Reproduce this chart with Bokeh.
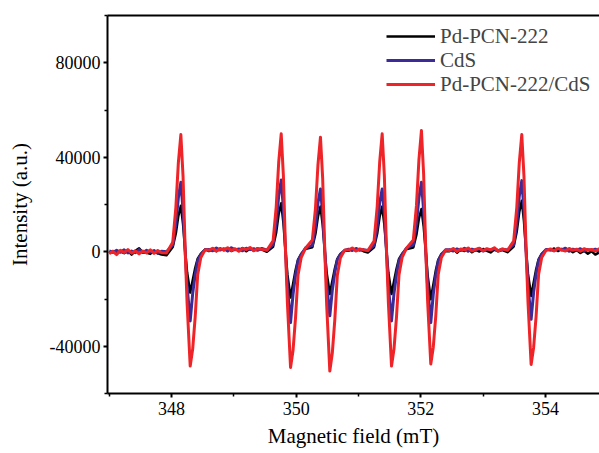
from bokeh.plotting import figure
from bokeh.models import (ColumnDataSource, LinearAxis, FixedTicker, Legend, LegendItem,
                          Range1d, BasicTickFormatter)
from bokeh.embed import file_html
from bokeh.resources import INLINE

# Magnetic field (mT), shared sampling of the three spectra
field = [
    347.00, 347.06, 347.12, 347.18, 347.24, 347.30, 347.36, 347.42, 347.48, 347.54, 347.60, 347.66, 347.72, 347.78, 347.84,
    347.92, 348.02, 348.07, 348.11, 348.15, 348.185, 348.22, 348.25, 348.30, 348.34, 348.38, 348.42, 348.47, 348.54,
    348.60, 348.66, 348.72, 348.78, 348.84, 348.90, 348.96, 349.02, 349.08, 349.14, 349.20, 349.26, 349.32, 349.38, 349.45,
    349.53, 349.63, 349.68, 349.72, 349.76, 349.795, 349.83, 349.86, 349.91, 349.95, 349.99, 350.03, 350.08, 350.15,
    350.16, 350.26, 350.31, 350.35, 350.39, 350.425, 350.46, 350.49, 350.54, 350.58, 350.62, 350.66, 350.71, 350.78,
    350.84, 350.90, 350.96, 351.02, 351.08,
    351.15, 351.25, 351.30, 351.34, 351.38, 351.415, 351.45, 351.48, 351.53, 351.57, 351.61, 351.65, 351.70, 351.77,
    351.78, 351.88, 351.93, 351.97, 352.01, 352.045, 352.08, 352.11, 352.16, 352.20, 352.24, 352.28, 352.33, 352.40,
    352.46, 352.52, 352.58, 352.64, 352.70, 352.76, 352.82, 352.88, 352.94, 353.00, 353.06, 353.12, 353.18, 353.24, 353.31,
    353.39, 353.49, 353.54, 353.58, 353.62, 353.655, 353.69, 353.72, 353.77, 353.81, 353.85, 353.89, 353.94, 354.01,
    354.08, 354.14, 354.20, 354.26, 354.32, 354.38, 354.44, 354.50, 354.56, 354.62, 354.68, 354.74, 354.80, 354.86, 354.92, 355.00,
]

pd_pcn_222 = [
    -500, 300, -800, 200, -600, 500, -1200, 400, 1500, -300, -400, -900, 300, -700, -1200,
    -1500, 2000, 7800, 15200, 19500, 11700, 0, -8700, -17300, -12100, -6900, -2900, -900, 1000,
    300, 1200, 200, 1400, 600, 1500, 300, 1100, 700, 1600, 200, 1300, 500, 1400, 900,
    0, 2100, 8200, 16000, 20500, 12300, 0, -9700, -19400, -13600, -7800, -3300, -1000, 1200,
    1200, 1900, 7600, 14900, 19100, 11500, 0, -9000, -17900, -12500, -7200, -3000, -900, 500,
    400, 1300, 500, 1100, 200,
    -300, 1900, 7600, 14900, 19100, 11500, 0, -9000, -17900, -12500, -7200, -3000, -900, 1200,
    1200, 1800, 7200, 14100, 18100, 10900, 0, -10100, -20100, -14100, -8000, -3400, -1000, 300,
    200, 1100, -400, 900, 300, 1300, -200, 800, 100, 1200, 400, -300, 900, 200, 700,
    -200, 2200, 8600, 16800, 21600, 13000, 0, -9400, -18700, -13100, -7500, -3200, -900, 800,
    600, 1400, 300, 1200, 500, 900, -200, 700, -500, 400, -800, 200, -1200, -300, -1400, -600,
]

cds = [
    400, -300, 600, -200, 800, -500, 300, -400, 900, -300, 600, -200, 500, -600, 200,
    0, 2900, 11800, 22900, 29400, 17600, 0, -14700, -29300, -17600, -9700, -3800, -1200, 900,
    1000, 400, 1600, 700, 1300, 300, 1700, 800, 1200, 400, 1500, 900, 1300, 600, 1400,
    700, 3000, 12200, 23700, 30400, 18200, 0, -15000, -30000, -18000, -9900, -3900, -1200, 1600,
    1700, 2700, 10600, 20700, 26600, 16000, 0, -13600, -27100, -16300, -8900, -3500, -1100, 600,
    1100, 500, 1400, 600, 900,
    400, 2700, 10600, 20700, 26600, 16000, 0, -14700, -29300, -17600, -9700, -3800, -1200, 1500,
    1700, 2900, 11800, 22900, 29400, 17600, 0, -15000, -30000, -18000, -9900, -3900, -1200, 800,
    900, 300, 1200, 500, 1500, 200, 1100, 600, 1400, 300, 1000, 700, 1300, 500, 1100,
    700, 3000, 12000, 23500, 30100, 18100, 0, -14300, -28600, -17200, -9400, -3700, -1100, 1000,
    1000, 400, 1300, 700, 1500, 200, 1100, 600, 1300, 300, 900, 500, 1100, 200, 800, 400,
]

pd_pcn_222_cds = [
    -800, 200, -1200, 600, -300, 900, -600, 400, -900, 300, -500, 800, -700, 500, -400,
    -500, 4000, 18800, 37700, 49600, 32000, 0, -21800, -48400, -41100, -27600, -9700, -2400, 800,
    600, 1500, 300, 1200, 800, 1700, 500, 1300, 200, 1400, 900, 1800, 400, 1300, 1000,
    600, 4600, 19000, 37900, 49900, 32200, 0, -22000, -49000, -41700, -27900, -9800, -2500, 1500,
    1800, 5000, 18400, 36900, 48500, 31300, 0, -22700, -50500, -42900, -28800, -10100, -2500, 700,
    700, 1600, 300, 1200, 800,
    500, 4500, 19000, 37900, 49900, 32200, 0, -21800, -48400, -41100, -27600, -9700, -2400, 1500,
    1800, 5000, 19500, 39000, 51300, 33000, 0, -21400, -47500, -40400, -27100, -9500, -2400, 700,
    500, 1400, 100, 1200, 700, 1600, 300, 1000, 1500, 400, 1300, 800, 1700, 300, 1200,
    600, 4500, 18800, 37700, 49600, 32000, 0, -21500, -47700, -40500, -27200, -9500, -2400, 600,
    1200, 400, 1500, 800, 300, 1400, 600, 1100, 200, 1300, 700, 1000, 300, 1200, 500, 800,
]

series_names = ["Pd-PCN-222", "CdS", "Pd-PCN-222/CdS"]
series_colors = ["#000000", "#3b2b99", "#ee2428"]
series_widths = [2.5, 3, 3]

x_ticks = [348, 350, 352, 354]
x_minor = [347, 349, 351, 353, 355]
y_ticks = [-40000, 0, 40000, 80000]
y_tick_labels = ["-40000", "0", "40000", "80000"]
y_minor = [-60000, -20000, 20000, 60000, 100000]

FONT = "Liberation Serif"

src = ColumnDataSource(dict(x=field, a=pd_pcn_222, b=cds, c=pd_pcn_222_cds))

p = figure(width=599, height=453,
           x_range=Range1d(346.973, 354.867), y_range=Range1d(-60000, 100000),
           output_backend="svg", toolbar_location=None,
           min_border_left=107, min_border_right=0, min_border_top=15, min_border_bottom=60)
p.background_fill_color = "white"
p.border_fill_color = "white"
p.outline_line_color = None
p.xgrid.visible = False
p.ygrid.visible = False

renderers = []
for col, color, w in zip(["a", "b", "c"], series_colors, series_widths):
    r = p.line("x", col, source=src, line_color=color, line_width=w, line_join="round")
    renderers.append(r)

# axes styling
xa = p.xaxis[0]
xa.ticker = FixedTicker(ticks=x_ticks, minor_ticks=x_minor)
xa.axis_label = "Magnetic field (mT)"
ya = p.yaxis[0]
ya.ticker = FixedTicker(ticks=y_ticks, minor_ticks=y_minor)
ya.formatter = BasicTickFormatter(use_scientific=False)
ya.major_label_overrides = {t: s for t, s in zip(y_ticks, y_tick_labels)}
ya.axis_label = "Intensity (a.u.)"

for ax in (xa, ya):
    ax.axis_line_width = 2
    ax.axis_line_color = "black"
    ax.major_tick_line_color = "black"
    ax.major_tick_line_width = 2
    ax.major_tick_out = 4
    ax.major_tick_in = 0
    ax.minor_tick_line_color = "black"
    ax.minor_tick_line_width = 1.5
    ax.minor_tick_out = 3
    ax.minor_tick_in = 0
    ax.major_label_text_font = FONT
    ax.major_label_text_font_size = "18px"
    ax.major_label_text_color = "black"
    ax.axis_label_text_font = FONT
    ax.axis_label_text_font_size = "21px"
    ax.axis_label_text_font_style = "normal"
    ax.axis_label_text_color = "black"

xa.major_label_standoff = 4
xa.axis_label_standoff = 6
ya.major_label_standoff = 3
ya.axis_label_standoff = 15

top = LinearAxis(ticker=FixedTicker(ticks=[]), axis_line_width=2, axis_line_color="black",
                 major_tick_line_color=None, minor_tick_line_color=None,
                 major_label_text_font_size="0px", major_label_standoff=0)
p.add_layout(top, "above")

# one single-row legend per series, stacked as in the original
legend_bottoms = [342, 318, 294]
for name, r, yb in zip(series_names, renderers, legend_bottoms):
    lg = Legend(items=[LegendItem(label=name, renderers=[r])],
                location=(279, yb), padding=0, margin=0, spacing=0,
                glyph_width=49, glyph_height=30, label_height=30, label_standoff=5,
                label_text_font=FONT, label_text_font_size="21px",
                border_line_color=None, background_fill_alpha=0)
    p.add_layout(lg)

open("out.html", "w").write(file_html(p, INLINE))
